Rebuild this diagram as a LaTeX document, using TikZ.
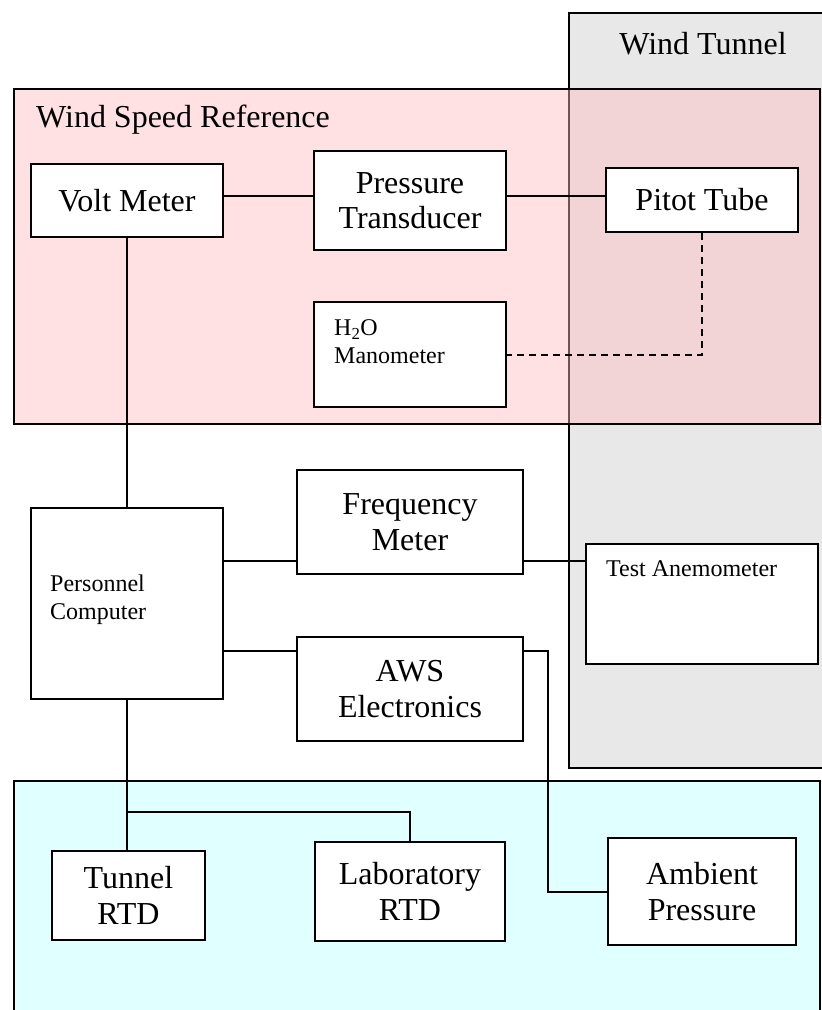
\documentclass[tikz,border=0pt]{standalone}
\usepackage{fontspec}
\setmainfont{Liberation Serif}
\definecolor{tunnelgray}{RGB}{232,232,232}
\definecolor{refpink}{RGB}{255,187,194}
\definecolor{labcyan}{RGB}{224,255,255}
\newcommand{\bigtxt}{\fontsize{32}{35.5}\selectfont}
\newcommand{\smalltxt}{\fontsize{24}{28}\selectfont}
\begin{document}
\begin{tikzpicture}[x=1pt,y=-1pt,
  box/.style={draw, fill=white, line width=2pt, inner sep=0pt, align=center, font=\bigtxt},
  wire/.style={line width=2pt},
  region/.style={draw, line width=2pt},
  label/.style={inner sep=0pt, align=left}]
\useasboundingbox (0,0) rectangle (822,1010);
\clip (0,0) rectangle (822,1010);
% regions
\path[region, fill=tunnelgray] (569,13) rectangle (830,768);
\node[label, font=\bigtxt] (wt) at (703,44) {Wind Tunnel};
\path[region, fill=refpink, fill opacity=0.44] (14,89) rectangle (820,424);
\node[label, font=\bigtxt, anchor=west] (wsr) at (36,120) {Wind Speed Reference};
\path[region, fill=labcyan] (14,781) rectangle (820,1020);
% boxes
\node[box, minimum width=192pt, minimum height=73pt] (volt) at (127,200.5) {Volt Meter};
\node[box, minimum width=192pt, minimum height=99pt] (press) at (410,200.5) {Pressure\\Transducer};
\node[box, minimum width=192pt, minimum height=64pt] (pitot) at (702,200) {Pitot Tube};
\node[box, minimum width=192pt, minimum height=105pt] (mano) at (410,354.5) {};
\node[label, font=\smalltxt, anchor=west] (manotxt) at (334,342) {H\textsubscript{2}O\\Manometer};
\node[box, minimum width=192pt, minimum height=191pt] (pc) at (127,603.5) {};
\node[label, font=\smalltxt, anchor=west] (pctxt) at (50,600) {Personnel\\Computer};
\node[box, minimum width=226pt, minimum height=104pt] (freq) at (410,522) {Frequency\\Meter};
\node[box, minimum width=232pt, minimum height=120pt] (test) at (702,604) {};
\node[label, font=\smalltxt, anchor=west] (testtxt) at (606,569) {Test Anemometer};
\node[box, minimum width=226pt, minimum height=104pt] (aws) at (410,689) {AWS\\Electronics};
\node[box, minimum width=153pt, minimum height=89pt] (trtd) at (128.5,895.5) {Tunnel\\RTD};
\node[box, minimum width=190pt, minimum height=99pt] (lrtd) at (410,891.5) {Laboratory\\RTD};
\node[box, minimum width=188pt, minimum height=107pt] (amb) at (702,891.5) {Ambient\\Pressure};
% helper coordinates
\coordinate (vy) at (0,196);
\coordinate (fy) at (0,561);
\coordinate (ay) at (0,651);
\coordinate (jy) at (0,812);
\coordinate (jx) at (548,0);
% connectors
\draw[wire] (volt.east |- vy) -- (press.west |- vy);
\draw[wire] (press.east |- vy) -- (pitot.west |- vy);
\draw[wire, dash pattern=on 7pt off 5pt] (pitot.south) |- (mano.east);
\draw[wire] (volt.south) -- (volt.south |- pc.north);
\draw[wire] (pc.east |- fy) -- (freq.west |- fy);
\draw[wire] (freq.east |- fy) -- (test.west |- fy);
\draw[wire] (pc.east |- ay) -- (aws.west |- ay);
\draw[wire] (aws.east |- ay) -| (jx |- amb.west) -- (amb.west);
\draw[wire] (pc.south) -- (pc.south |- trtd.north);
\draw[wire] (pc.south |- jy) -| (lrtd.north);
\end{tikzpicture}
\end{document}
